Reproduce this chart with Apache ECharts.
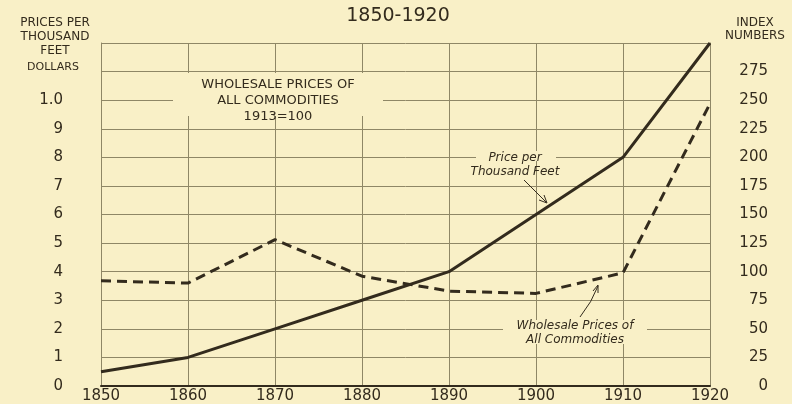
<!DOCTYPE html>
<html>
<head>
<meta charset="utf-8">
<script src="https://cdn.jsdelivr.net/npm/echarts@6/dist/echarts.min.js"></script>
<style>
  html, body { margin: 0; padding: 0; background: #f9f0c7; }
  #chart { width: 792px; height: 404px; }
</style>
</head>
<body>
<div id="chart"></div>
<script>
// years on the x axis
const years = [1850, 1860, 1870, 1880, 1890, 1900, 1910, 1920];
// price per thousand feet, dollars (left axis)
const pricePerThousand = [0.5, 1.0, 2.0, 3.0, 4.0, 6.0, 8.0, 12.0];
// wholesale prices of all commodities, 1913=100 (right axis)
const wholesaleIndex = [92, 90, 128, 96, 83, 81, 99, 247];

const ink = '#332b1d';
const gridColor = '#8f8766';
const bg = '#f9f0c7';
const font = 'DejaVu Sans';

const chart = echarts.init(document.getElementById('chart'));

const option = {
    backgroundColor: bg,
    animation: false,
    textStyle: { fontFamily: font, color: ink },
    grid: { left: 101, right: 82, top: 43, bottom: 17 },
    xAxis: {
        type: 'value',
        min: 1850,
        max: 1920,
        interval: 10,
        axisLine: { show: true, onZero: false, lineStyle: { color: ink, width: 2 } },
        axisTick: { show: false },
        axisLabel: { color: ink, fontSize: 15, margin: 3, fontFamily: font,
            formatter: v => String(v) },
        splitLine: { show: true, lineStyle: { color: gridColor, width: 1 } }
    },
    yAxis: [
        {
            type: 'value',
            min: 0,
            max: 12,
            interval: 1,
            position: 'left',
            axisLine: { show: true, lineStyle: { color: gridColor, width: 1 } },
            axisTick: { show: false },
            axisLabel: {
                color: ink, fontSize: 15, margin: 38, fontFamily: font,
                formatter: v => v === 10 ? '1.0' : (v >= 11 ? '' : String(v))
            },
            splitLine: { show: true, lineStyle: { color: gridColor, width: 1 } }
        },
        {
            type: 'value',
            min: 0,
            max: 300,
            interval: 25,
            position: 'right',
            axisLine: { show: true, lineStyle: { color: gridColor, width: 1 } },
            axisTick: { show: false },
            axisLabel: {
                color: ink, fontSize: 15, margin: 58, align: 'right', fontFamily: font,
                formatter: v => v >= 300 ? '' : String(v)
            },
            splitLine: { show: false }
        }
    ],
    series: [
        {
            name: 'Price per Thousand Feet',
            type: 'line',
            yAxisIndex: 0,
            data: years.map((y, i) => [y, pricePerThousand[i]]),
            symbol: 'none',
            lineStyle: { color: ink, width: 3 },
            z: 5
        },
        {
            name: 'Wholesale Prices of All Commodities',
            type: 'line',
            yAxisIndex: 1,
            data: years.map((y, i) => [y, wholesaleIndex[i]]),
            symbol: 'none',
            lineStyle: { color: ink, width: 3, type: [10, 6] },
            z: 5
        }
    ],
    graphic: [
        // title
        { type: 'text', x: 398, y: 7,
          style: { text: '1850-1920', font: '19px "DejaVu Sans"', fill: ink, align: 'center' } },
        // left axis heading
        { type: 'text', x: 55, y: 16, z: 10,
          style: { text: 'PRICES PER\nTHOUSAND\nFEET', font: '12px "DejaVu Sans"', fill: ink,
                   align: 'center', lineHeight: 14 } },
        { type: 'text', x: 53, y: 62, z: 10,
          style: { text: 'DOLLARS', font: '11px "DejaVu Sans"', fill: ink, align: 'center' } },
        // right axis heading
        { type: 'text', x: 755, y: 16, z: 10,
          style: { text: 'INDEX\nNUMBERS', font: '12px "DejaVu Sans"', fill: ink,
                   align: 'center', lineHeight: 13 } },
        // boxed label over the grid
        { type: 'rect', shape: { x: 173, y: 73, width: 210, height: 43 }, z: 3,
          style: { fill: bg } },
        { type: 'text', x: 278, y: 77, z: 10,
          style: { text: 'WHOLESALE PRICES OF\nALL COMMODITIES\n1913=100', font: '13px "DejaVu Sans"',
                   fill: ink, align: 'center', lineHeight: 16 } },
        // price annotation
        { type: 'rect', shape: { x: 476, y: 151, width: 80, height: 10 }, z: 3, style: { fill: bg } },
        { type: 'text', x: 515, y: 151, z: 10,
          style: { text: 'Price per\nThousand Feet', font: 'italic 12px "DejaVu Sans"', fill: ink,
                   align: 'center', lineHeight: 14 } },
        { type: 'line', shape: { x1: 524, y1: 180, x2: 546, y2: 202 }, z: 10,
          style: { stroke: ink, lineWidth: 1 } },
        { type: 'polyline', shape: { points: [[539, 200], [547, 203], [544, 195]] }, z: 10,
          style: { stroke: ink, lineWidth: 1, fill: null } },
        // wholesale annotation
        { type: 'rect', shape: { x: 503, y: 320, width: 144, height: 24 }, z: 3, style: { fill: bg } },
        { type: 'text', x: 575, y: 319, z: 10,
          style: { text: 'Wholesale Prices of\nAll Commodities', font: 'italic 12px "DejaVu Sans"', fill: ink,
                   align: 'center', lineHeight: 14 } },
        { type: 'bezierCurve', shape: { x1: 580, y1: 317, x2: 598, y2: 286, cpx1: 592, cpy1: 302 }, z: 10,
          style: { stroke: ink, lineWidth: 1, fill: null } },
        { type: 'polyline', shape: { points: [[593, 291], [598, 285], [598, 293]] }, z: 10,
          style: { stroke: ink, lineWidth: 1, fill: null } }
    ]
};

chart.setOption(option);
</script>
</body>
</html>
